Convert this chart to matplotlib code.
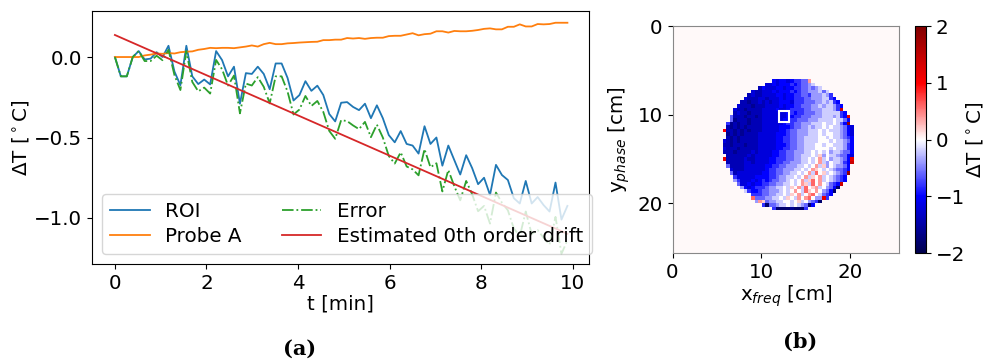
import numpy as np
import matplotlib
matplotlib.use("Agg")
import matplotlib.pyplot as plt
from matplotlib.patches import Rectangle

# ---------------- data: time series (panel a) ----------------
t_step = 0.13  # minutes between samples
roi = [0.0, -0.12, -0.12, 0.0, 0.037, -0.015, -0.01, 0.03, 0.0, 0.07,
       -0.09, -0.175, 0.07, -0.12, -0.168, -0.14, -0.17, 0.037, -0.019, -0.12,
       -0.06, -0.29, -0.10, -0.105, -0.06, -0.105, -0.20, -0.04, -0.04, -0.13,
       -0.27, -0.236, -0.15, -0.21, -0.178, -0.236, -0.354, -0.40, -0.284, -0.28,
       -0.31, -0.33, -0.29, -0.38, -0.30, -0.38, -0.485, -0.53, -0.46, -0.54,
       -0.55, -0.60, -0.43, -0.54, -0.50, -0.675, -0.55, -0.64, -0.73, -0.61,
       -0.69, -0.79, -0.75, -0.857, -0.67, -0.733, -0.764, -0.877, -0.91, -0.77,
       -0.91, -0.87, -0.92, -0.96, -0.78, -1.01, -0.925]
probe_a = [0.0, 0.0, 0.0, 0.0, 0.0, 0.01, 0.015, 0.022, 0.02, 0.025,
           0.022, 0.03, 0.033, 0.035, 0.045, 0.05, 0.057, 0.055, 0.057, 0.057,
           0.055, 0.06, 0.065, 0.072, 0.065, 0.08, 0.088, 0.08, 0.08, 0.085,
           0.087, 0.09, 0.092, 0.094, 0.095, 0.105, 0.105, 0.108, 0.108, 0.118,
           0.115, 0.118, 0.113, 0.118, 0.12, 0.12, 0.13, 0.132, 0.132, 0.14,
           0.148, 0.135, 0.142, 0.145, 0.16, 0.16, 0.152, 0.162, 0.16, 0.16,
           0.163, 0.168, 0.175, 0.178, 0.172, 0.172, 0.188, 0.188, 0.203, 0.19,
           0.19, 0.205, 0.203, 0.205, 0.213, 0.213, 0.213]
error = [0.0, -0.12, -0.12, 0.0, 0.037, -0.025, -0.025, 0.008, -0.02, 0.045,
         -0.112, -0.205, 0.037, -0.155, -0.213, -0.19, -0.227, -0.018, -0.076, -0.177,
         -0.115, -0.35, -0.165, -0.177, -0.125, -0.185, -0.288, -0.12, -0.12, -0.215,
         -0.357, -0.326, -0.242, -0.304, -0.273, -0.341, -0.459, -0.508, -0.392, -0.398,
         -0.425, -0.448, -0.403, -0.498, -0.42, -0.50, -0.615, -0.662, -0.592, -0.68,
         -0.698, -0.735, -0.572, -0.685, -0.66, -0.835, -0.702, -0.802, -0.89, -0.77,
         -0.853, -0.958, -0.925, -1.035, -0.842, -0.905, -0.952, -1.065, -1.113, -0.96,
         -1.10, -1.075, -1.123, -1.165, -0.993, -1.223, -1.138]
drift_t = [0.0, 9.88]
drift_val = [0.137, -1.098]

series_labels = ["ROI", "Probe A", "Error", "Estimated 0th order drift"]

# ---------------- data: temperature map (panel b) ----------------
map_size = 64
map_extent_cm = 25.6
map_background = 0.02
level_chars = "abcdefghijklmnopqrstu"       # a=-2.0 ... k=0.0 ... u=+2.0
level_values = [-2.0, -1.8, -1.6, -1.4, -1.2, -1.0, -0.8, -0.6, -0.4, -0.2, 0.0,
                0.2, 0.4, 0.6, 0.8, 1.0, 1.2, 1.4, 1.6, 1.8, 2.0]
# (row, first column, pixel codes)
map_rows = [
    (15, 28, "feffefgghhm"),
    (16, 26, "eefefffgfghhij"),
    (17, 24, "dfeeeffeffgghhihij"),
    (18, 22, "eddeeefefffgfghhiiijhj"),
    (19, 21, "deddeeeeffeffgghhgiiijig"),
    (20, 20, "edddeedeeefeffggghhiiijjgf"),
    (21, 19, "ddcddededeefffeggghhhiijijgf"),
    (22, 18, "edddcdddeeeefeffgghhhiijijjigf"),
    (23, 17, "eddcddddeeeefeefgggghhiiijjjigr"),
    (24, 17, "deddcdddeeeeeeefgfgghhhiijjjjjgf"),
    (25, 16, "hdddcddcdeeeeeeeffgghhhiiijjjijgfq"),
    (26, 16, "hcdddcdddeeeeeeffgghhhiiijjjjkjjhf"),
    (27, 15, "gcdcddcdddeeeeeefgghhiiijjjkjjkjhft"),
    (28, 15, "dcdcdcddddeeeeefffghhiijijjkjkjjihfe"),
    (29, 14, "pddcdcdcdddeeeeeffghhiiijjjkjkjjjihfe"),
    (30, 15, "cdcdcddddeeeeefffghhiiijjjkjkkjjihfe"),
    (31, 15, "dcdcdddddeeeeeffgghhiijjjjkkjkjjihgf"),
    (32, 14, "edcdcdddddeeeeeffgghhiijjjjkkkjkjjihf"),
    (33, 14, "ddcdddcdddeeeeefffghhiijjjkkjkkjjjigf"),
    (34, 14, "edddcdddddeeeeeffgghhiijjjkkkkjkjjigf"),
    (35, 14, "dddcddddedeeeeffgghhiiijjkjkjkijjihhf"),
    (36, 15, "ddddddedeeeeeffgghhiijjjkjlikjjihhfe"),
    (37, 14, "qdddddeddeeeeffggghhiijjkjkmjkijjihfq"),
    (38, 15, "dddddeedeeeeffgghhiiijjkjkmjikjjigfr"),
    (39, 15, "hddddeeeeeeffgghhiiijjkjkmjlikjiihf"),
    (40, 16, "edddeeeeeefgghhiiijjkjkmlkjkjihhgf"),
    (41, 16, "hdeeeeeeeffgghhiijjkjkmjnkljkjihgt"),
    (42, 17, "geeeeeffffgghiijjkjkmjlkmjkjihgf"),
    (43, 17, "igeeefefgfghhiijkjkmjlnkmjkjihgf"),
    (44, 18, "heefeffgghhiijjkjkmljnkmkjhgfr"),
    (45, 19, "ifefggghiijjkjlkmjnklmjkihfb"),
    (46, 20, "jgffghhiiijkjkmkjnlkmkihfb"),
    (47, 21, "kggghhiijjkjlkmjkmnkjhgf"),
    (48, 22, "nhhhiijjkjlkjmkmnkiiqg"),
    (49, 23, "imlhiijjkkjkljkihgb"),
    (50, 25, "gbhhijjkjkjihbf"),
    (51, 28, "gbbbbcbbbg"),
]
roi_box_cm = (12.0, 9.6, 1.2, 1.2)   # x, y, width, height

# ---------------- build ----------------
t = np.arange(len(roi)) * t_step
lookup = dict(zip(level_chars, level_values))
temp_map = np.full((map_size, map_size), map_background)
for r, c0, codes in map_rows:
    for k, ch in enumerate(codes):
        temp_map[r, c0 + k] = lookup[ch]

FS = 14.3
plt.rcParams["font.size"] = FS
fig = plt.figure(figsize=(9.86, 3.63), dpi=100)

# ----- panel (a) -----
ax = fig.add_axes([0.0933, 0.2727, 0.504, 0.697])
ax.plot(t, roi, color="tab:blue", lw=1.3, label=series_labels[0])
ax.plot(t, probe_a, color="tab:orange", lw=1.3, label=series_labels[1])
ax.plot(t, error, color="tab:green", lw=1.3, ls="-.", label=series_labels[2])
ax.plot(drift_t, drift_val, color="tab:red", lw=1.3, label=series_labels[3])
ax.set_xlim(-0.5, 10.35)
ax.set_ylim(-1.286, 0.286)
ax.set_xticks([0, 2, 4, 6, 8, 10])
ax.set_yticks([0.0, -0.5, -1.0])
ax.set_xlabel("t [min]", fontsize=FS, labelpad=1)
ax.set_ylabel(r"$\Delta$T [$^\circ$C]", fontsize=FS, labelpad=2)
ax.tick_params(labelsize=FS)
ax.legend(loc="lower left", ncol=2, fontsize=FS, handlelength=2.0,
          borderaxespad=0.5, columnspacing=2.0, labelspacing=0.3)

# ----- panel (b) -----
ax2 = fig.add_axes([0.6815, 0.303, 0.2312, 0.625])
im = ax2.imshow(temp_map, cmap="seismic", vmin=-2, vmax=2, interpolation="nearest",
                extent=[0, map_extent_cm, map_extent_cm, 0])
ax2.add_patch(Rectangle(roi_box_cm[:2], roi_box_cm[2], roi_box_cm[3],
                        fill=False, edgecolor="white", lw=1.5))
ax2.set_xticks([0, 10, 20])
ax2.set_yticks([0, 10, 20])
ax2.set_xlabel(r"x$_{freq}$ [cm]", fontsize=FS, labelpad=1)
ax2.set_ylabel(r"y$_{phase}$ [cm]", fontsize=FS)
ax2.tick_params(labelsize=FS)
for s in ax2.spines.values():
    s.set_color("#888888")

cax = fig.add_axes([0.928, 0.303, 0.0112, 0.625])
cb = fig.colorbar(im, cax=cax, ticks=[-2, -1, 0, 1, 2])
cb.ax.tick_params(labelsize=FS)
cb.set_label(r"$\Delta$T [$^\circ$C]", fontsize=FS, labelpad=-1)

fig.text(0.304, 0.04, "(a)", ha="center", va="center", fontsize=15,
         fontweight="bold", family="DejaVu Serif")
fig.text(0.811, 0.058, "(b)", ha="center", va="center", fontsize=15,
         fontweight="bold", family="DejaVu Serif")

fig.savefig("out.png", dpi=100)
